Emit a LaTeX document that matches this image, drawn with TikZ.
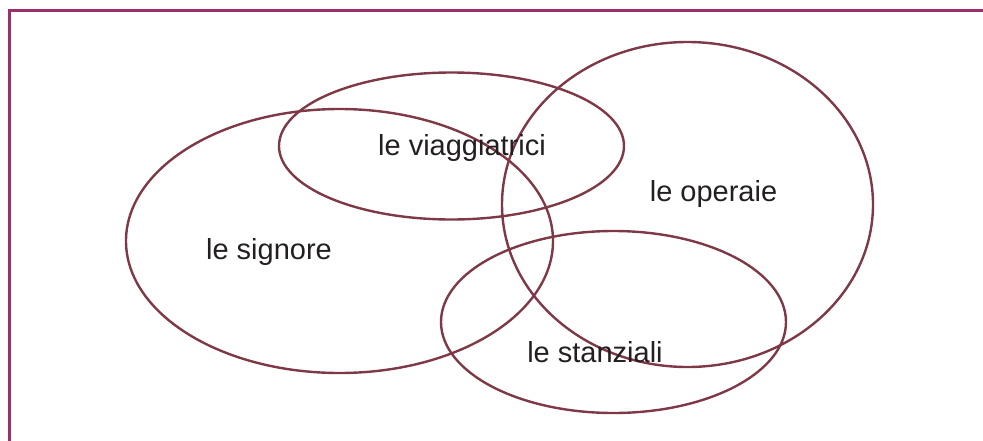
\documentclass[tikz,border=0pt]{standalone}
\usepackage{fontspec}
\setmainfont{Liberation Sans}
\usepackage{tikz}

\definecolor{framecol}{HTML}{9C2F6A}
\definecolor{setcol}{HTML}{7E3846}
\definecolor{textcol}{HTML}{231F20}

\tikzset{
	setline/.style={draw=setcol, line width=2.4pt},
	setlabel/.style={anchor=base, text=textcol, font=\fontsize{29}{34}\selectfont, inner sep=0pt}
}

\begin{document}
\begin{tikzpicture}[x=1pt, y=-1pt]
			\useasboundingbox (0,0) rectangle (983,440);
			
			% frame, open at the right and at the bottom
			\draw[framecol, line width=3pt] (9.5,445) -- (9.5,10.5) -- (990,10.5);
			
			% the four sets
			\foreach \name/\cx/\cy/\rx/\ry in
			{signore/339.5/241/213.5/132, viaggiatrici/451.5/146/172.5/73.5,
				operaie/687.5/204.5/185.5/162.5, stanziali/613.5/322/172.5/91}{
				\coordinate (\name) at (\cx,\cy);
				\draw[setline] (\name) ellipse ({\rx} and {\ry});
			}
			
			% labels
			\foreach \name/\x/\y/\txt in
			{lsignore/269/259/le signore, lviaggiatrici/462/155/le viaggiatrici,
				loperaie/713.5/201/le operaie, lstanziali/595/362/le stanziali}{
				\node[setlabel] (\name) at (\x,\y) {\txt};
			}
		\end{tikzpicture}
\end{document}
